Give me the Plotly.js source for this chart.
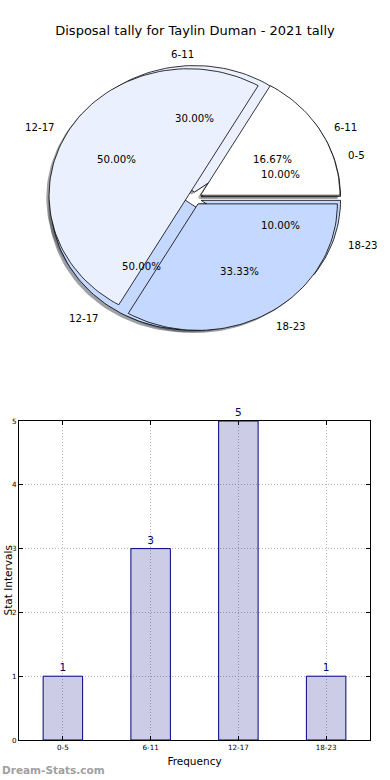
<!DOCTYPE html>
<html>
<head>
<meta charset="utf-8">
<script src="https://cdn.plot.ly/plotly-3.0.1.min.js"></script>
<style>html,body{margin:0;padding:0;background:#fff;}</style>
</head>
<body>
<div id="chart" style="width:390px;height:780px;"></div>
<script>
// ---- data ----
const titleText = 'Disposal tally for Taylin Duman - 2021 tally';
const categories = ['0-5', '6-11', '12-17', '18-23'];
const tally = [1, 3, 5, 1];
const pieALabels = ['0-5', '6-11', '12-17', '18-23'];
const pieAValues = [1, 3, 5, 1];
const pieBLabels = ['6-11', '12-17', '18-23'];
const pieBValues = [1, 3, 2];
const pieColors = ['#ffffff', '#eaf0fe', '#c5d8ff', '#c5d8ff'];
const xTitle = 'Frequency';
const yTitle = 'Stat Intervals';
const watermark = 'Dream-Stats.com';

// ---- pie geometry (style) ----
const EXPLODE = 0.05, LABEL_D = 1.1, PCT_D = 0.6, SHX = -0.02, SHY = -0.02;
const FONT = 'DejaVu Sans';
const TEXT_YSHIFT = -2;

function shade(hex) {
  const r = parseInt(hex.slice(1,3),16), g = parseInt(hex.slice(3,5),16), b = parseInt(hex.slice(5,7),16);
  return 'rgba(' + Math.round(0.3*r) + ',' + Math.round(0.3*g) + ',' + Math.round(0.3*b) + ',0.5)';
}

function buildPie(values, labels) {
  const total = values.reduce((a,b)=>a+b,0);
  let cum = 0;
  const shadows = [], wedges = [], texts = [];
  values.forEach((v, i) => {
    const t1 = 2*Math.PI*cum/total, t2 = 2*Math.PI*(cum+v)/total;
    cum += v;
    const tm = (t1+t2)/2;
    const cx = EXPLODE*Math.cos(tm), cy = EXPLODE*Math.sin(tm);
    const n = Math.max(8, Math.ceil((t2-t1)/(Math.PI/90)));
    const make = (ox, oy) => {
      const xs = [cx+ox], ys = [cy+oy];
      for (let k=0;k<=n;k++){ const a = t1+(t2-t1)*k/n; xs.push(cx+ox+Math.cos(a)); ys.push(cy+oy+Math.sin(a)); }
      xs.push(cx+ox); ys.push(cy+oy);
      return {xs, ys};
    };
    const s = make(SHX, SHY);
    shadows.push({type:'scatter', mode:'lines', x:s.xs, y:s.ys, fill:'toself', fillcolor:shade(pieColors[i]),
      line:{width:0, color:'rgba(0,0,0,0)'}, xaxis:'x2', yaxis:'y2', hoverinfo:'skip', showlegend:false});
    const w = make(0, 0);
    wedges.push({type:'scatter', mode:'lines', x:w.xs, y:w.ys, fill:'toself', fillcolor:pieColors[i],
      line:{width:0.8, color:'#000'}, xaxis:'x2', yaxis:'y2', hoverinfo:'skip', showlegend:false, name:labels[i]});
    texts.push({xref:'x2', yref:'y2', x:cx + LABEL_D*Math.cos(tm), y:cy + LABEL_D*Math.sin(tm), text:labels[i],
      showarrow:false, xanchor:(Math.cos(tm) > 1e-9 ? 'left' : 'right'), yanchor:'middle', borderpad:0, yshift:TEXT_YSHIFT,
      font:{family:FONT, size:10.2, color:'#000'}});
    texts.push({xref:'x2', yref:'y2', x:cx + PCT_D*Math.cos(tm), y:cy + PCT_D*Math.sin(tm),
      text:(100*v/total).toFixed(2) + '%', showarrow:false, xanchor:'center', yanchor:'middle', borderpad:0,
      yshift:TEXT_YSHIFT, font:{family:FONT, size:10.2, color:'#000'}});
  });
  return {shadows, wedges, texts};
}

const A = buildPie(pieAValues, pieALabels);
const B = buildPie(pieBValues, pieBLabels);

const annotations = [].concat(A.texts, B.texts);

const barTrace = {type:'bar', x:categories, y:tally, width:0.45, xaxis:'x', yaxis:'y',
  marker:{color:'rgba(0,0,128,0.2)', line:{color:'#000080', width:1}},
  text:tally.map(String), textposition:'outside', textfont:{family:FONT, size:10.5, color:'#000080'},
  cliponaxis:false, hoverinfo:'skip', showlegend:false};

annotations.push({xref:'paper', yref:'paper', x:0, y:(780-770)/780, xanchor:'left', yanchor:'middle',
  text:watermark, showarrow:false, font:{family:FONT, size:10.5, color:'#a0a0a0', weight:'bold'}});
annotations.push({xref:'paper', yref:'paper', x:7/390, y:(780-580.5)/780, xanchor:'center', yanchor:'middle',
  text:yTitle, textangle:-90, showarrow:false, borderpad:0, font:{family:FONT, size:10.5, color:'#000'}});

const pxX = [0, 390], cxp = 194.5, rxp = 139.4, cyp = 198.4, ryp = 126.5;

const layout = {
  width:390, height:780, margin:{l:0, r:0, t:0, b:0}, showlegend:false,
  paper_bgcolor:'#fff', plot_bgcolor:'rgba(0,0,0,0)',
  font:{family:FONT, color:'#000'},
  title:{text:titleText, font:{family:FONT, size:13, color:'#000'}, x:0.5, xanchor:'center', y:1-30/780, yanchor:'middle'},
  xaxis:{domain:[19/390, 370/390], range:[-0.5, 3.5], type:'category', anchor:'y',
    showgrid:true, gridcolor:'#b4b4b4', griddash:'1px,2px', gridwidth:1,
    ticks:'inside', ticklen:4, tickcolor:'#000', showline:true, linecolor:'#000', linewidth:1, mirror:'ticks',
    zeroline:false, tickfont:{family:FONT, size:7.2, color:'#000'},
    title:{text:xTitle, font:{family:FONT, size:10.5, color:'#000'}, standoff:7}},
  yaxis:{domain:[40/780, 359/780], range:[0, 5], dtick:1, anchor:'x',
    showgrid:true, gridcolor:'#b4b4b4', griddash:'1px,2px', gridwidth:1,
    ticks:'inside', ticklen:4, tickcolor:'#000', showline:true, linecolor:'#000', linewidth:1, mirror:'ticks',
    zeroline:false, tickfont:{family:FONT, size:7.2, color:'#000'}},
  xaxis2:{domain:[0, 1], range:[(pxX[0]-cxp)/rxp, (pxX[1]-cxp)/rxp], visible:false, anchor:'y2', fixedrange:true},
  yaxis2:{domain:[0.5, 1], range:[(cyp-390)/ryp, cyp/ryp], visible:false, anchor:'x2', fixedrange:true},
  annotations:annotations
};

const traces = [].concat(A.shadows, B.shadows, A.wedges, B.wedges, [barTrace]);
Plotly.newPlot('chart', traces, layout, {displayModeBar:false, staticPlot:true});
</script>
</body>
</html>
